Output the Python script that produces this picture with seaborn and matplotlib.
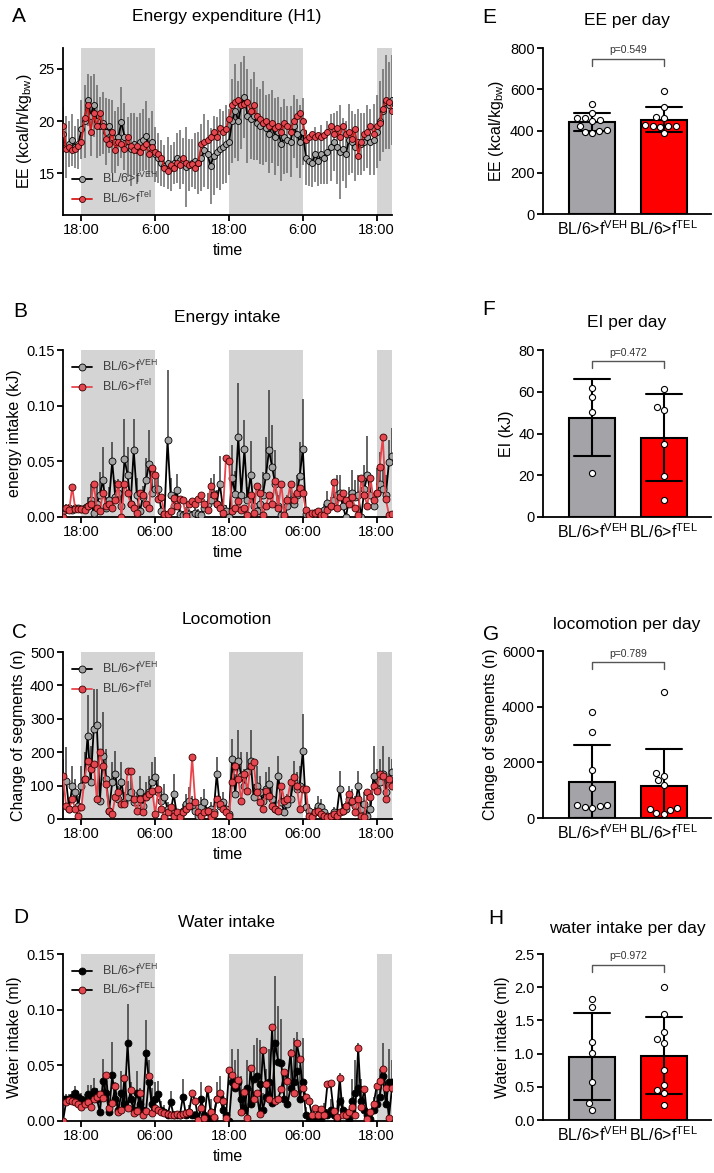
import numpy as np
import pandas as pd
import matplotlib
matplotlib.use("Agg")
import matplotlib.pyplot as plt
from matplotlib.lines import Line2D
import seaborn as sns

# half-hourly sampling, hours relative to 18:00 on day 1
HOURS = np.arange(-3, 50.75, 0.5)

# ---- A: energy expenditure (kcal/h/kg_bw)
ee_veh = [18.8, 17.5, 17.8, 18.2, 17.5, 17.8, 19.2, 20.0, 22.0, 20.5, 21.5, 20.0,
          19.5, 19.8, 19.0, 19.5, 18.5, 18.0, 18.5, 19.9, 18.5, 17.5, 17.3, 17.8,
          17.2, 18.0, 18.2, 18.6, 17.5, 18.0, 16.8, 16.5, 16.0, 15.7, 16.0, 15.5,
          16.0, 16.5, 16.3, 16.2, 15.6, 15.8, 16.0, 16.2, 16.0, 16.5, 17.2, 16.8,
          15.7, 16.7, 17.0, 17.3, 17.5, 17.8, 18.0, 20.0, 21.0, 20.0, 21.5, 22.3,
          20.5, 20.2, 20.5, 19.8, 19.5, 19.8, 19.3, 18.8, 19.5, 18.5, 19.0, 17.8,
          18.5, 18.2, 18.0, 19.5, 18.8, 18.0, 19.0, 16.5, 16.2, 16.0, 16.8, 16.2,
          16.8, 16.5, 17.0, 17.5, 18.0, 17.5, 17.0, 17.3, 16.8, 18.2, 18.0, 17.5,
          18.0, 17.8, 18.0, 18.5, 18.0, 18.2, 19.0, 20.0, 21.0, 21.8, 21.5, 22.0]
ee_tel = [19.5, 17.3, 17.5, 17.2, 17.3, 17.6, 18.0, 20.3, 21.5, 19.0, 20.8, 19.5,
          20.8, 19.5, 18.3, 17.8, 19.0, 17.2, 18.0, 17.8, 17.3, 18.5, 17.6, 17.2,
          17.6, 17.0, 17.5, 17.8, 16.8, 17.5, 17.0, 16.8, 16.5, 15.5, 15.2, 15.8,
          15.5, 16.0, 15.8, 16.5, 16.0, 15.8, 15.9, 15.5, 16.0, 17.8, 18.0, 18.2,
          18.5, 19.0, 18.5, 19.3, 19.0, 19.2, 20.2, 21.5, 21.8, 22.0, 21.5, 21.6,
          21.8, 21.0, 21.5, 20.5, 20.2, 19.8, 20.0, 19.5, 19.8, 19.3, 19.5, 19.0,
          19.8, 19.5, 19.0, 20.0, 20.5, 20.8, 20.0, 18.2, 18.5, 18.8, 18.5, 18.7,
          18.5, 18.7, 19.0, 19.5, 18.8, 19.3, 18.5, 19.5, 18.8, 19.0, 18.3, 19.2,
          16.7, 18.0, 18.8, 19.0, 19.5, 18.8, 19.5, 19.8, 21.2, 22.0, 21.8, 21.0]
ee_veh_sd = [2.5, 3.0, 2.2, 2.5, 2.0, 2.4, 2.8, 3.5, 2.5, 3.8, 3.0, 3.5,
             2.8, 3.0, 3.2, 2.6, 3.5, 3.0, 2.8, 3.4, 3.2, 2.9, 3.5, 3.0,
             3.2, 2.8, 3.0, 3.3, 2.8, 3.0, 2.6, 2.4, 2.2, 2.0, 2.5, 2.2,
             2.0, 2.4, 2.8, 2.2, 3.8, 2.5, 2.3, 2.7, 3.0, 3.2, 3.5, 3.3,
             3.6, 3.8, 3.4, 3.9, 3.5, 3.7, 3.2, 4.0, 4.5, 3.8, 4.2, 3.9,
             4.5, 3.8, 4.2, 3.5, 3.6, 4.0, 3.2, 3.8, 3.5, 3.7, 3.3, 3.5,
             3.6, 3.2, 3.4, 3.0, 3.3, 3.5, 3.2, 2.6, 2.4, 2.3, 2.6, 2.4,
             2.8, 2.5, 3.0, 3.2, 2.8, 3.5, 4.5, 3.0, 3.2, 3.4, 3.0, 3.2,
             3.2, 3.0, 2.8, 3.0, 3.2, 3.4, 3.5, 3.8, 4.0, 4.5, 4.2, 4.3]

# ---- B: energy intake (kJ)
ei_veh = [0.005, 0.007, 0.008, 0.006, 0.008, 0.008, 0.007, 0.008, 0.010, 0.015, 0.004, 0.012,
          0.020, 0.033, 0.008, 0.015, 0.050, 0.018, 0.022, 0.010, 0.052, 0.038, 0.012, 0.060,
          0.020, 0.005, 0.018, 0.033, 0.048, 0.022, 0.025, 0.025, 0.005, 0.003, 0.069, 0.020,
          0.010, 0.024, 0.003, 0.002, 0.004, 0.003, 0.002, 0.004, 0.003, 0.002, 0.008, 0.012,
          0.015, 0.021, 0.012, 0.030, 0.008, 0.005, 0.000, 0.035, 0.021, 0.072, 0.020, 0.061,
          0.015, 0.038, 0.010, 0.005, 0.012, 0.020, 0.037, 0.060, 0.045, 0.030, 0.010, 0.002,
          0.000, 0.010, 0.015, 0.012, 0.020, 0.037, 0.061, 0.003, 0.002, 0.002, 0.003, 0.004,
          0.003, 0.006, 0.013, 0.010, 0.015, 0.020, 0.022, 0.010, 0.000, 0.015, 0.022, 0.018,
          0.020, 0.000, 0.025, 0.038, 0.020, 0.010, 0.022, 0.030, 0.025, 0.020, 0.049, 0.055]
ei_tel = [0.000, 0.008, 0.006, 0.027, 0.007, 0.007, 0.007, 0.006, 0.010, 0.012, 0.030, 0.008,
          0.005, 0.022, 0.010, 0.012, 0.008, 0.015, 0.030, 0.000, 0.030, 0.022, 0.012, 0.008,
          0.004, 0.022, 0.020, 0.012, 0.008, 0.044, 0.038, 0.016, 0.018, 0.003, 0.003, 0.005,
          0.017, 0.010, 0.016, 0.015, 0.001, 0.012, 0.014, 0.012, 0.016, 0.020, 0.012, 0.006,
          0.028, 0.020, 0.012, 0.008, 0.004, 0.053, 0.050, 0.005, 0.008, 0.014, 0.006, 0.008,
          0.002, 0.020, 0.004, 0.028, 0.022, 0.002, 0.010, 0.020, 0.012, 0.032, 0.008, 0.030,
          0.002, 0.015, 0.030, 0.015, 0.022, 0.026, 0.022, 0.006, 0.002, 0.004, 0.004, 0.005,
          0.002, 0.002, 0.006, 0.010, 0.031, 0.008, 0.018, 0.022, 0.015, 0.012, 0.018, 0.008,
          0.002, 0.035, 0.020, 0.010, 0.035, 0.015, 0.022, 0.045, 0.072, 0.016, 0.002, 0.003]
ei_veh_err = [0.004, 0.005, 0.004, 0.003, 0.004, 0.003, 0.003, 0.004, 0.008, 0.015, 0.004, 0.017,
              0.020, 0.030, 0.010, 0.012, 0.017, 0.015, 0.012, 0.008, 0.036, 0.025, 0.010, 0.028,
              0.015, 0.005, 0.010, 0.020, 0.030, 0.012, 0.020, 0.012, 0.005, 0.003, 0.063, 0.015,
              0.008, 0.015, 0.004, 0.003, 0.005, 0.004, 0.003, 0.005, 0.004, 0.003, 0.008, 0.010,
              0.020, 0.018, 0.012, 0.025, 0.008, 0.006, 0.003, 0.030, 0.020, 0.048, 0.015, 0.026,
              0.012, 0.030, 0.010, 0.006, 0.012, 0.020, 0.035, 0.054, 0.038, 0.030, 0.010, 0.004,
              0.002, 0.010, 0.012, 0.010, 0.018, 0.030, 0.045, 0.004, 0.003, 0.003, 0.004, 0.004,
              0.004, 0.006, 0.010, 0.008, 0.012, 0.018, 0.016, 0.010, 0.002, 0.012, 0.020, 0.015,
              0.018, 0.002, 0.022, 0.035, 0.018, 0.010, 0.022, 0.028, 0.020, 0.018, 0.020, 0.025]

# ---- C: locomotion (change of segments)
loc_veh = [120, 115, 30, 100, 80, 40, 100, 120, 250, 110, 270, 280,
           55, 190, 120, 25, 110, 135, 60, 110, 50, 65, 80, 50,
           50, 80, 40, 70, 80, 110, 125, 80, 55, 65, 30, 20,
           75, 15, 10, 25, 45, 55, 40, 25, 10, 35, 50, 20,
           30, 20, 135, 40, 50, 30, 15, 180, 75, 175, 130, 100,
           140, 175, 65, 100, 80, 55, 90, 105, 60, 30, 130, 50,
           20, 45, 60, 115, 90, 100, 205, 35, 25, 10, 20, 40,
           35, 20, 10, 10, 20, 15, 90, 25, 30, 60, 50, 40,
           100, 30, 45, 10, 30, 130, 90, 110, 135, 80, 115, 140]
loc_tel = [130, 40, 30, 60, 30, 10, 35, 120, 175, 150, 165, 60,
           200, 160, 105, 25, 15, 65, 80, 45, 45, 145, 145, 60,
           25, 60, 20, 65, 75, 85, 15, 90, 30, 5, 20, 35,
           10, 20, 5, 20, 30, 40, 185, 50, 20, 10, 20, 25,
           5, 15, 60, 45, 30, 20, 10, 110, 160, 120, 55, 135,
           85, 160, 170, 80, 50, 30, 85, 70, 40, 30, 25, 100,
           55, 60, 110, 125, 100, 30, 90, 90, 10, 5, 20, 25,
           15, 10, 5, 10, 15, 10, 20, 25, 40, 75, 55, 20,
           60, 10, 5, 80, 65, 100, 85, 135, 130, 60, 120, 100]
loc_veh_err = [60, 100, 20, 60, 40, 30, 60, 80, 120, 110, 120, 110,
               40, 130, 90, 20, 60, 70, 40, 60, 30, 50, 60, 30,
               30, 50, 30, 40, 50, 60, 60, 40, 30, 40, 20, 15,
               60, 10, 8, 20, 30, 40, 30, 20, 10, 30, 40, 15,
               20, 15, 50, 30, 30, 20, 10, 60, 60, 90, 70, 50,
               60, 90, 40, 60, 50, 30, 50, 50, 40, 20, 60, 30,
               15, 30, 40, 60, 50, 60, 110, 30, 20, 8, 15, 30,
               25, 15, 8, 8, 15, 10, 55, 20, 25, 40, 40, 30,
               45, 25, 35, 8, 25, 90, 60, 70, 85, 50, 70, 40]

# ---- D: water intake (ml)
wat_veh = [0.020, 0.020, 0.020, 0.022, 0.025, 0.022, 0.020, 0.018, 0.024, 0.022, 0.027, 0.020,
           0.008, 0.036, 0.025, 0.008, 0.041, 0.020, 0.010, 0.025, 0.015, 0.070, 0.020, 0.010,
           0.025, 0.015, 0.010, 0.061, 0.035, 0.015, 0.020, 0.024, 0.010, 0.008, 0.005, 0.017,
           0.005, 0.005, 0.005, 0.022, 0.005, 0.008, 0.005, 0.005, 0.000, 0.020, 0.005, 0.002,
           0.008, 0.003, 0.020, 0.022, 0.010, 0.005, 0.000, 0.035, 0.030, 0.035, 0.020, 0.010,
           0.030, 0.015, 0.038, 0.040, 0.033, 0.010, 0.022, 0.035, 0.016, 0.070, 0.053, 0.052,
           0.020, 0.015, 0.030, 0.035, 0.045, 0.020, 0.035, 0.005, 0.000, 0.002, 0.001, 0.005,
           0.002, 0.008, 0.005, 0.010, 0.005, 0.002, 0.018, 0.010, 0.005, 0.002, 0.018, 0.025,
           0.030, 0.018, 0.010, 0.005, 0.002, 0.010, 0.015, 0.022, 0.040, 0.015, 0.035, 0.035]
wat_tel = [0.000, 0.017, 0.019, 0.018, 0.017, 0.015, 0.013, 0.015, 0.017, 0.013, 0.020, 0.022,
           0.024, 0.021, 0.041, 0.012, 0.016, 0.031, 0.008, 0.010, 0.039, 0.012, 0.028, 0.007,
           0.009, 0.025, 0.005, 0.009, 0.040, 0.007, 0.012, 0.010, 0.008, 0.007, 0.006, 0.005,
           0.005, 0.006, 0.005, 0.006, 0.007, 0.008, 0.025, 0.018, 0.001, 0.012, 0.003, 0.029,
           0.008, 0.004, 0.020, 0.025, 0.018, 0.003, 0.046, 0.041, 0.032, 0.037, 0.008, 0.026,
           0.003, 0.048, 0.020, 0.025, 0.006, 0.064, 0.033, 0.020, 0.084, 0.018, 0.020, 0.029,
           0.044, 0.036, 0.061, 0.025, 0.070, 0.056, 0.030, 0.022, 0.018, 0.005, 0.012, 0.005,
           0.011, 0.005, 0.033, 0.034, 0.009, 0.004, 0.039, 0.005, 0.005, 0.008, 0.013, 0.005,
           0.066, 0.013, 0.029, 0.002, 0.008, 0.015, 0.031, 0.036, 0.047, 0.030, 0.003, 0.030]
wat_veh_err = [0.005, 0.004, 0.004, 0.005, 0.006, 0.005, 0.005, 0.006, 0.008, 0.010, 0.012, 0.010,
               0.008, 0.020, 0.015, 0.010, 0.030, 0.015, 0.012, 0.020, 0.015, 0.035, 0.015, 0.010,
               0.020, 0.015, 0.010, 0.030, 0.020, 0.015, 0.015, 0.012, 0.008, 0.006, 0.004, 0.010,
               0.004, 0.004, 0.004, 0.016, 0.004, 0.006, 0.004, 0.004, 0.002, 0.015, 0.004, 0.003,
               0.012, 0.004, 0.015, 0.018, 0.012, 0.006, 0.002, 0.030, 0.025, 0.030, 0.020, 0.012,
               0.025, 0.015, 0.030, 0.035, 0.040, 0.015, 0.025, 0.030, 0.020, 0.060, 0.050, 0.040,
               0.025, 0.020, 0.035, 0.040, 0.035, 0.030, 0.040, 0.008, 0.003, 0.004, 0.003, 0.006,
               0.004, 0.008, 0.006, 0.010, 0.006, 0.004, 0.025, 0.012, 0.006, 0.004, 0.020, 0.030,
               0.040, 0.020, 0.012, 0.006, 0.004, 0.012, 0.018, 0.025, 0.030, 0.015, 0.030, 0.020]

# ---- E-H: per-day totals, individual animals
GROUPS = ["BL/6>f$^{\\mathrm{VEH}}$", "BL/6>f$^{\\mathrm{TEL}}$"]
ee_day_veh = [531, 487, 461, 461, 453, 450, 424, 392, 397, 405, 402]
ee_day_tel = [594, 514, 469, 461, 429, 424, 421, 426, 390, 424]
ei_day_veh = [62, 57.3, 50.2, 21.1]
ei_day_tel = [61.1, 52.6, 51.2, 34.9, 19.7, 8.0]
loc_day_veh = [3800, 3080, 1710, 1080, 470, 420, 470, 380, 370]
loc_day_tel = [4515, 1604, 1520, 1353, 1174, 335, 144, 371, 192, 275]
wat_day_veh = [1.815, 1.695, 1.18, 1.015, 0.575, 0.255, 0.155]
wat_day_tel = [2.0, 1.59, 1.325, 1.22, 1.165, 0.75, 0.455, 0.52, 0.41, 0.23]
P_VALUES = ["p=0.549", "p=0.472", "p=0.789", "p=0.972"]

W, H = 714, 1173
sns.set_theme(style="ticks")
plt.rcParams["font.family"] = ["Liberation Sans", "DejaVu Sans"]
plt.rcParams["mathtext.fontset"] = "custom"
plt.rcParams["mathtext.rm"] = "Liberation Sans"
plt.rcParams["mathtext.it"] = "Liberation Sans:italic"
plt.rcParams["mathtext.bf"] = "Liberation Sans:bold"
for key in ("text.color", "axes.labelcolor", "xtick.color", "ytick.color", "axes.edgecolor"):
    plt.rcParams[key] = "black"

fig = plt.figure(figsize=(W / 100, H / 100), dpi=100)


def fy(y):
    return 1 - y / H


def box(x0, x1, y0, y1):
    return [x0 / W, 1 - y1 / H, (x1 - x0) / W, (y1 - y0) / H]


def style_axes(ax):
    sns.despine(ax=ax)
    for s in ("left", "bottom"):
        ax.spines[s].set_linewidth(1.3)
        ax.spines[s].set_color("black")
    ax.tick_params(width=1.3, length=4, labelsize=10.5, color="black", pad=2)


GRAY_FILL = "#a3a3a3"
RED_FILL = "#e4474f"


def time_panel(box_px, veh, tel, err, ylim, yticks, fmt, ylabel, ticklabels,
               leg_labels, leg_loc, symmetric, tel_line, veh_fill, msize, err_col):
    ax = fig.add_axes(box(*box_px))
    for start in (0, 24, 48):
        ax.axvspan(start, min(start + 12, 50.5), color="#d4d4d4", lw=0, zorder=0)
    veh = np.asarray(veh)
    err = np.asarray(err)
    low = veh - err if symmetric else veh
    ax.vlines(HOURS, low, veh + err, color=err_col, lw=1.1, zorder=1)
    sns.lineplot(x=HOURS, y=veh, ax=ax, color="black", lw=1.3, marker="o",
                 markersize=msize, markerfacecolor=veh_fill, markeredgecolor="black",
                 markeredgewidth=0.6, estimator=None, zorder=3)
    sns.lineplot(x=HOURS, y=tel, ax=ax, color=tel_line, lw=1.3, marker="o",
                 markersize=msize, markerfacecolor=RED_FILL, markeredgecolor="#3a0000",
                 markeredgewidth=0.6, estimator=None, zorder=4)
    ax.set_xlim(-3, 50.5)
    ax.set_ylim(*ylim)
    ax.set_yticks(yticks)
    ax.set_yticklabels([fmt.format(v) for v in yticks])
    ax.set_xticks([0, 12, 24, 36, 48])
    ax.set_xticklabels(ticklabels)
    ax.set_xlabel("time", fontsize=11.5, labelpad=4)
    ax.set_ylabel(ylabel, fontsize=11.5, labelpad=3)
    style_axes(ax)
    handles = [
        Line2D([], [], color="black", lw=1.3, marker="o", markersize=msize,
               markerfacecolor=veh_fill, markeredgecolor="black", markeredgewidth=0.6),
        Line2D([], [], color=tel_line, lw=1.3, marker="o", markersize=msize,
               markerfacecolor=RED_FILL, markeredgecolor="#3a0000", markeredgewidth=0.6),
    ]
    ax.legend(handles, leg_labels, loc=leg_loc, frameon=False, fontsize=9,
              handlelength=1.6, labelspacing=0.3, borderaxespad=0.3,
              labelcolor="#404040")
    return ax


def bar_panel(box_px, veh, tel, ylim, yticks, fmt, ylabel, ptext):
    ax = fig.add_axes(box(*box_px))
    df = pd.DataFrame({
        "group": [GROUPS[0]] * len(veh) + [GROUPS[1]] * len(tel),
        "value": list(veh) + list(tel),
    })
    sns.barplot(data=df, x="group", y="value", hue="group", order=GROUPS,
                palette=["#a3a3a8", "#ff0000"], saturation=1, legend=False,
                errorbar="sd", capsize=0.5, width=0.645, edgecolor="black",
                linewidth=1.5, err_kws={"color": "black", "linewidth": 1.5}, ax=ax)
    sns.swarmplot(data=df, x="group", y="value", order=GROUPS, color="white",
                  edgecolor="black", linewidth=0.8, size=4.4, ax=ax, zorder=5)
    top = ylim[1]
    ax.plot([0, 0, 1, 1], [0.89 * top, 0.936 * top, 0.936 * top, 0.89 * top],
            color="#555555", lw=1.0, clip_on=False)
    ax.text(0.5, 0.955 * top, ptext, ha="center", va="bottom", fontsize=7.5,
            color="#333333")
    ax.set_xlim(-0.686, 1.658)
    ax.set_ylim(*ylim)
    ax.set_yticks(yticks)
    ax.set_yticklabels([fmt.format(v) for v in yticks])
    ax.set_xlabel("")
    ax.set_ylabel(ylabel, fontsize=11.5, labelpad=3)
    style_axes(ax)
    ax.tick_params(axis="x", length=0, labelsize=11.5, pad=4)
    return ax


LX0, LX1 = 63, 392
RX0, RX1 = 543, 711
TICKS_06 = ["18:00", "06:00", "18:00", "06:00", "18:00"]

time_panel((LX0, LX1, 48, 215), ee_veh, ee_tel, ee_veh_sd, (11, 27), [15, 20, 25], "{:.0f}",
           "EE (kcal/h/kg$_{\\mathrm{bw}}$)", ["18:00", "6:00", "18:00", "6:00", "18:00"],
           ["BL/6>f$^{\\mathrm{VEH}}$", "BL/6>f$^{\\mathrm{Tel}}$"], "lower left", True,
           "#d81c1c", GRAY_FILL, 4.3, "#6a6a6a")
time_panel((LX0, LX1, 350, 517), ei_veh, ei_tel, ei_veh_err, (0, 0.15), [0, 0.05, 0.10, 0.15],
           "{:.2f}", "energy intake (kJ)", TICKS_06,
           ["BL/6>f$^{\\mathrm{VEH}}$", "BL/6>f$^{\\mathrm{Tel}}$"], "upper left", False,
           "#e8444c", GRAY_FILL, 5, "#3a3a3a")
time_panel((LX0, LX1, 652, 819), loc_veh, loc_tel, loc_veh_err, (0, 500), [0, 100, 200, 300, 400, 500],
           "{:.0f}", "Change of segments (n)", TICKS_06,
           ["BL/6>f$^{\\mathrm{VEH}}$", "BL/6>f$^{\\mathrm{Tel}}$"], "upper left", False,
           "#e8444c", GRAY_FILL, 5, "#3a3a3a")
time_panel((LX0, LX1, 954, 1121), wat_veh, wat_tel, wat_veh_err, (0, 0.15), [0, 0.05, 0.10, 0.15],
           "{:.2f}", "Water intake (ml)", TICKS_06,
           ["BL/6>f$^{\\mathrm{VEH}}$", "BL/6>f$^{\\mathrm{TEL}}$"], "upper left", False,
           "black", "black", 5, "#3a3a3a")

bar_panel((RX0, RX1, 48, 214), ee_day_veh, ee_day_tel, (0, 800), [0, 200, 400, 600, 800], "{:.0f}",
          "EE (kcal/kg$_{\\mathrm{bw}}$)", P_VALUES[0])
bar_panel((RX0, RX1, 350, 517), ei_day_veh, ei_day_tel, (0, 80), [0, 20, 40, 60, 80], "{:.0f}",
          "EI (kJ)", P_VALUES[1])
bar_panel((RX0, RX1, 651, 818), loc_day_veh, loc_day_tel, (0, 6000), [0, 2000, 4000, 6000], "{:.0f}",
          "Change of segments (n)", P_VALUES[2])
bar_panel((RX0, RX1, 954, 1120), wat_day_veh, wat_day_tel, (0, 2.5), [0, 0.5, 1.0, 1.5, 2.0, 2.5],
          "{:.1f}", "Water intake (ml)", P_VALUES[3])

# panel titles and letters
titles = [("Energy expenditure (H1)", 227, 21), ("Energy intake", 227, 322),
          ("Locomotion", 227, 624), ("Water intake", 227, 927),
          ("EE per day", 627, 25), ("EI per day", 627, 327),
          ("locomotion per day", 627, 629), ("water intake per day", 627, 933)]
for txt, x, y in titles:
    fig.text(x / W, fy(y), txt, ha="center", va="baseline", fontsize=12.5)

letters = [("A", 12, 22), ("B", 13, 317), ("C", 12, 638), ("D", 13, 923),
           ("E", 482, 23), ("F", 482, 315), ("G", 483, 640), ("H", 488, 924)]
for txt, x, y in letters:
    fig.text(x / W, fy(y), txt, ha="left", va="baseline", fontsize=15)

fig.savefig("out.png", dpi=100)
